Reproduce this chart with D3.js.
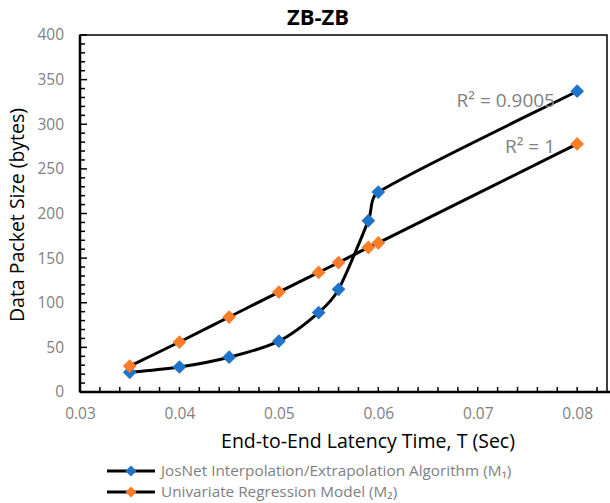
<!DOCTYPE html>
<html><head><meta charset="utf-8">
<script src="https://cdn.jsdelivr.net/npm/d3@7"></script>
<style>body{margin:0;background:#fff}svg{display:block}</style>
</head><body><svg id="c" width="610" height="503"></svg>
<script>
const xValues = [0.035, 0.04, 0.045, 0.05, 0.054, 0.056, 0.059, 0.06, 0.08];
const m1Values = [22, 28, 39, 57, 89, 115, 192, 224, 337];
const m2Values = [29, 56, 84, 112, 134, 145, 162, 167, 278];
const xTicks = [0.03, 0.04, 0.05, 0.06, 0.07, 0.08];
const yTicks = [0, 50, 100, 150, 200, 250, 300, 350, 400];
const seriesNames = ["JosNet Interpolation/Extrapolation Algorithm (M\u2081)", "Univariate Regression Model (M\u2082)"];
const r2Labels = ["R\u00b2 = 0.9005", "R\u00b2 = 1"];
const colors = ["#1f74c9", "#fb7d2a"];

const font = "'Open Sans', sans-serif";
const svg = d3.select("#c");
const L = 80, R = 607, T = 35, B = 392;
const x = d3.scaleLinear().domain([0.03, 0.083]).range([L, R]);
const y = d3.scaleLinear().domain([0, 400]).range([B, T]);

// Excel-like smoothed line: Catmull-Rom tangents with control arms capped by segment length
function smoothCurve(context) {
  let pts;
  return {
    areaStart() {}, areaEnd() {},
    lineStart() { pts = []; },
    point(px, py) { pts.push([+px, +py]); },
    lineEnd() {
      const n = pts.length;
      if (!n) return;
      context.moveTo(pts[0][0], pts[0][1]);
      const tan = pts.map((p, i) => {
        const a = pts[Math.max(0, i - 1)], b = pts[Math.min(n - 1, i + 1)];
        return [b[0] - a[0], b[1] - a[1]];
      });
      for (let i = 0; i < n - 1; i++) {
        const p0 = pts[i], p1 = pts[i + 1];
        const seg = Math.hypot(p1[0] - p0[0], p1[1] - p0[1]);
        const arm = (t) => {
          const len = Math.hypot(t[0], t[1]) || 1;
          const a = Math.min(len / 6, seg / 3);
          return [t[0] / len * a, t[1] / len * a];
        };
        const a0 = arm(tan[i]), a1 = arm(tan[i + 1]);
        context.bezierCurveTo(p0[0] + a0[0], p0[1] + a0[1], p1[0] - a1[0], p1[1] - a1[1], p1[0], p1[1]);
      }
    }
  };
}

svg.append("rect").attr("x", L).attr("y", T).attr("width", R - L).attr("height", B - T)
  .attr("fill", "none").attr("stroke", "#000").attr("stroke-width", 1.5);

const g = svg.append("g");
const xMinor = d3.range(0.03, 0.0831, 0.002);
g.selectAll(".xt").data(xMinor).enter().append("line")
  .attr("x1", d => x(d)).attr("x2", d => x(d)).attr("y1", B).attr("y2", B - 5)
  .attr("stroke", "#000").attr("stroke-width", 1.5);
const yMinor = d3.range(0, 401, 10);
g.selectAll(".yt").data(yMinor).enter().append("line")
  .attr("x1", L).attr("x2", d => L + (d % 50 === 0 ? 7 : 5)).attr("y1", d => y(d)).attr("y2", d => y(d))
  .attr("stroke", "#000").attr("stroke-width", 1.5);
svg.append("line").attr("x1", L).attr("x2", L).attr("y1", T).attr("y2", B).attr("stroke", "#000").attr("stroke-width", 2.5);
svg.append("line").attr("x1", L).attr("x2", R + 3).attr("y1", B).attr("y2", B).attr("stroke", "#000").attr("stroke-width", 2.5);

const xAxis = d3.axisBottom(x).tickValues(xTicks).tickFormat(d3.format(".2f")).tickSize(0).tickPadding(16);
const xa = svg.append("g").attr("transform", `translate(0,${B})`).call(xAxis);
xa.select(".domain").remove();
xa.selectAll("text").attr("font-family", font).attr("font-size", 15.5).attr("fill", "#7f7f7f");
const yAxis = d3.axisLeft(y).tickValues(yTicks).tickSize(0).tickPadding(16);
const ya = svg.append("g").attr("transform", `translate(${L},0)`).call(yAxis);
ya.select(".domain").remove();
ya.selectAll("text").attr("font-family", font).attr("font-size", 15.5).attr("fill", "#7f7f7f");

const series = [m1Values, m2Values];
const line = d3.line().x(d => x(d[0])).y(d => y(d[1])).curve(smoothCurve);
series.forEach((vals, i) => {
  const pts = xValues.map((xv, j) => [xv, vals[j]]);
  svg.append("path").attr("d", line(pts)).attr("fill", "none").attr("stroke", "#000").attr("stroke-width", 3);
});
const diamond = d3.symbol().type(d3.symbolDiamond2).size(120);
series.forEach((vals, i) => {
  const pts = xValues.map((xv, j) => [xv, vals[j]]);
  svg.append("g").selectAll("path").data(pts).enter().append("path")
    .attr("d", diamond).attr("transform", d => `translate(${x(d[0])},${y(d[1])})`)
    .attr("fill", colors[i]);
});

svg.append("text").attr("x", 318).attr("y", 25).attr("text-anchor", "middle")
  .attr("font-family", font).attr("font-weight", "bold").attr("font-size", 22).text("ZB-ZB");

svg.append("text").attr("x", 368).attr("y", 448).attr("text-anchor", "middle")
  .attr("font-family", font).attr("font-size", 19.5).attr("fill", "#000").text("End-to-End Latency Time, T (Sec)");
svg.append("text").attr("transform", "translate(24,215) rotate(-90)").attr("text-anchor", "middle")
  .attr("font-family", font).attr("font-size", 19.5).attr("fill", "#000").text("Data Packet Size (bytes)");

svg.append("text").attr("x", 555).attr("y", 107).attr("text-anchor", "end")
  .attr("font-family", font).attr("font-size", 19).attr("fill", "#7f7f7f").text(r2Labels[0]);
svg.append("text").attr("x", 555).attr("y", 153).attr("text-anchor", "end")
  .attr("font-family", font).attr("font-size", 19).attr("fill", "#7f7f7f").text(r2Labels[1]);

const legY = [471, 492];
seriesNames.forEach((name, i) => {
  svg.append("line").attr("x1", 107).attr("x2", 155).attr("y1", legY[i]).attr("y2", legY[i]).attr("stroke", "#000").attr("stroke-width", 3);
  svg.append("path").attr("d", d3.symbol().type(d3.symbolDiamond2).size(80)).attr("transform", `translate(131,${legY[i]})`).attr("fill", colors[i]);
  svg.append("text").attr("x", 161).attr("y", legY[i] + 5).attr("font-family", font).attr("font-size", 15.3)
    .attr("fill", "#7f7f7f").text(name);
});
</script></body></html>
